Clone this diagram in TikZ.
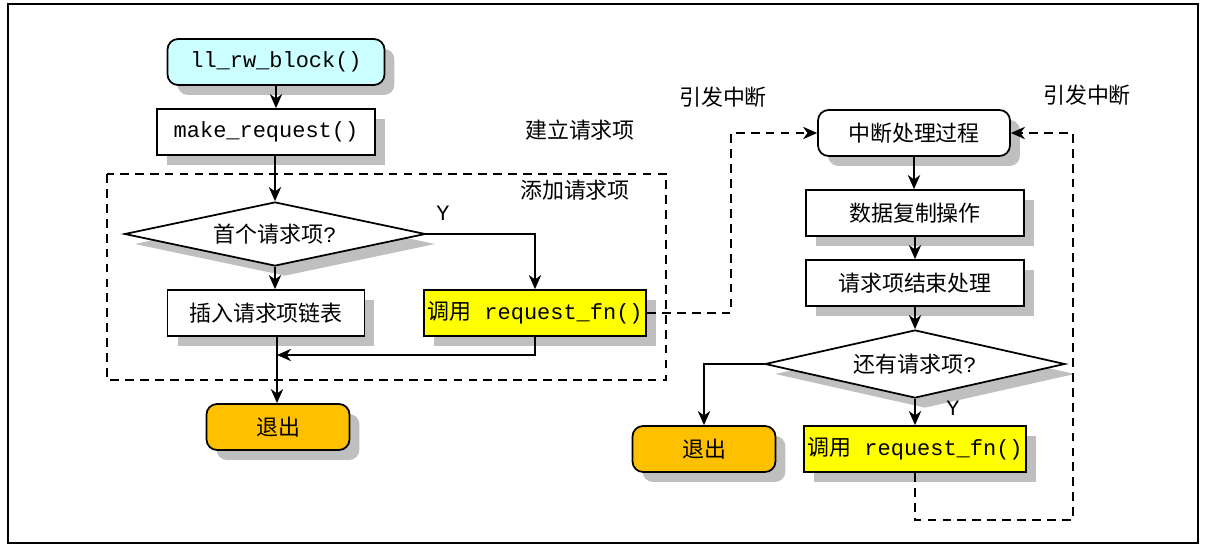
\documentclass[tikz,border=0pt]{standalone}
\usepackage{fontspec}
\setmainfont{Liberation Mono}
\newfontfamily\cjk{Noto Sans CJK SC}
\usetikzlibrary{arrows.meta,shapes.geometric,shadows}
\definecolor{startcol}{RGB}{204,255,255}
\definecolor{callcol}{RGB}{255,255,0}
\definecolor{exitcol}{RGB}{255,192,0}
\tikzset{
  base/.style={draw, line width=1pt, font=\fontsize{12.5}{14}\selectfont,
    drop shadow={shadow xshift=0.2cm, shadow yshift=-0.2cm, fill=black!25, opacity=1}},
  box/.style={base, rectangle, fill=white, minimum width=4.36cm, minimum height=0.92cm, inner sep=2pt},
  rbox/.style={box, rounded corners=6pt},
  dec/.style={base, diamond, fill=white, aspect=4.7, inner sep=0pt, minimum width=6cm, minimum height=1.3cm},
  flow/.style={line width=1pt, -{Stealth[length=8pt,width=7pt,inset=2.5pt]}},
  irq/.style={flow, dashed, dash pattern=on 5pt off 3.5pt},
  note/.style={font=\fontsize{12.5}{14}\selectfont\cjk}
}
\begin{document}
\begin{tikzpicture}[x=0.02cm, y=-0.02cm]
	% frame
	\useasboundingbox (0,0) rectangle (1206,547);
	\draw [line width=1.2pt] (8,4) rectangle (1198,543);
	% adding a request
	\draw [dash pattern=on 5pt off 3.5pt, line width=0.9pt] (107,174) rectangle (666,380);
	\node [rbox, fill=startcol, minimum width=4.34cm] (rw) at (276,62) {ll\_rw\_block()};
	\node [box] (mk) at (266,132) {make\_request()};
	\node [dec, minimum width=6.02cm, minimum height=1.28cm] (first) at (275,234) {{\cjk 首个请求项}?};
	\node [box, minimum width=3.94cm] (ins) at (266,313) {\cjk 插入请求项链表};
	\node [box, fill=callcol] (callA) at (535,313) {{\cjk 调用} request\_fn()};
	\node [rbox, fill=exitcol, minimum width=2.86cm] (exitA) at (278,427) {\cjk 退出};
	\coordinate (join) at (277,355);
	\draw [flow] (rw) -- (rw.south |- mk.north);
	\draw [flow] (mk.south -| first.north) -- (first);
	\draw [flow] (first.south) -- (first.south |- ins.north);
	\draw [flow] (first.east) -| (callA.north);
	\draw [flow] (callA.south) |- (join);
	\draw [flow] (ins.south -| join) -- (join |- exitA.north);
	\node [note] (lbA) at (580,130) {建立请求项};
	\node [note] (lbB) at (575,190) {添加请求项};
	\node [font=\fontsize{12.5}{14}\selectfont] (yA) at (443,213) {Y};
	% interrupt handling
	\node [rbox, minimum width=3.84cm] (isr) at (914,133) {\cjk 中断处理过程};
	\node [box] (copy) at (915,213) {\cjk 数据复制操作};
	\node [box] (done) at (915,283) {\cjk 请求项结束处理};
	\node [dec, minimum width=6cm, minimum height=1.36cm] (more) at (915,364) {{\cjk 还有请求项}?};
	\node [rbox, fill=exitcol, minimum width=2.86cm] (exitB) at (704,449) {\cjk 退出};
	\node [box, fill=callcol] (callB) at (915,449) {{\cjk 调用} request\_fn()};
	\node [font=\fontsize{12.5}{14}\selectfont] (yB) at (953,408) {Y};
	\draw [flow] (isr) -- (isr.south |- copy.north);
	\draw [flow] (copy) -- (copy.south |- done.north);
	\draw [flow] (done) -- (done.south |- more.north);
	\draw [flow] (more.south) -- (more.south |- callB.north);
	\draw [flow] (more.west) -| (exitB.north);
	% raised interrupts
	\coordinate (upA) at (731,313);
	\coordinate (loB) at (1073,520);
	\draw [irq] (callA.east) -- (upA) |- (isr.west);
	\draw [irq] (callB.south) |- (loB) |- (isr.east);
	\node [note] (irqA) at (723,97) {引发中断};
	\node [note] (irqB) at (1087,95) {引发中断};
\end{tikzpicture}
\end{document}
